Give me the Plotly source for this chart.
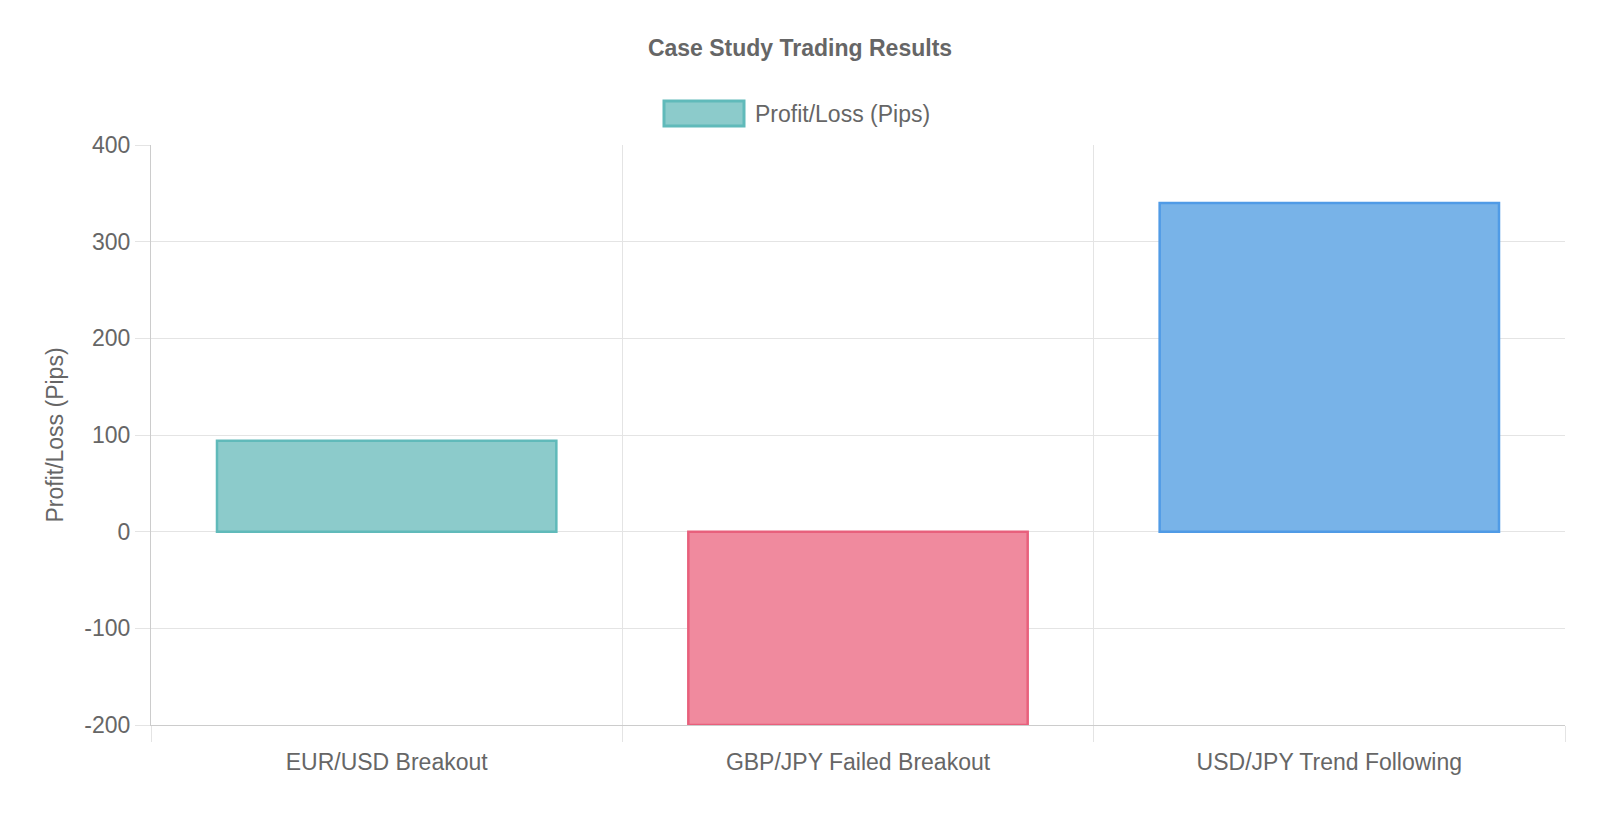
import plotly.graph_objects as go

# ── Data ───────────────────────────────────────────────────────────────────────
categories = ["EUR/USD Breakout", "GBP/JPY Failed Breakout", "USD/JPY Trend Following"]
pips = [94, -200, 340]
fill_colors = ["#8ccbcb", "#f08a9e", "#78b3e8"]
line_colors = ["#60baba", "#e8607c", "#509be6"]
series_name = "Profit/Loss (Pips)"
y_ticks = [-200, -100, 0, 100, 200, 300, 400]
y_tick_text = [str(v) for v in y_ticks]

FONT = "Liberation Sans, Helvetica Neue, Arial, sans-serif"
GRID = "#e4e4e4"
AXIS = "#cccccc"
TEXT = "#666666"

# plot area in page pixels (used to place the hand-drawn legend)
L, R, T, B = 151, 1565, 145, 725
W, H = R - L, B - T

fig = go.Figure(go.Bar(
    x=categories, y=pips,
    name=series_name,
    marker=dict(color=fill_colors, line=dict(color=line_colors, width=2.5)),
    showlegend=False,
))

fig.update_layout(
    width=1600, height=817,
    margin=dict(l=L, r=1600 - R, t=T, b=817 - B),
    paper_bgcolor="white", plot_bgcolor="white",
    bargap=0.28,
    font=dict(family=FONT, color=TEXT, size=23),
    title=dict(text="<b>Case Study Trading Results</b>", x=0.5, xanchor="center",
               y=1 - 48 / 817, yanchor="middle", font=dict(size=23, color=TEXT)),
)

fig.update_xaxes(
    range=[-0.5, 2.5],
    tickson="boundaries", ticks="outside", ticklen=16, tickcolor=GRID,
    showgrid=True, gridcolor=GRID, gridwidth=1,
    showline=True, linecolor=AXIS, linewidth=1,
    ticklabelstandoff=16,
    tickfont=dict(size=23, color=TEXT),
)
fig.update_yaxes(
    range=[-200, 400], tickvals=y_ticks, ticktext=y_tick_text,
    ticks="outside", ticklen=15, tickcolor=GRID,
    showgrid=True, gridcolor=GRID, gridwidth=1, zeroline=False,
    showline=True, linecolor=AXIS, linewidth=1,
    ticklabelstandoff=0,
    tickfont=dict(size=23, color=TEXT),
    title=dict(text=series_name, font=dict(size=23, color=TEXT), standoff=14),
)

# Chart.js-style legend: wide colour box + label
fig.add_shape(type="rect", xref="paper", yref="paper",
              x0=(664 - L) / W, x1=(744 - L) / W,
              y0=(B - 126) / H, y1=(B - 101) / H,
              fillcolor=fill_colors[0], line=dict(color=line_colors[0], width=3))
fig.add_annotation(text=series_name, xref="paper", yref="paper",
                   x=(753 - L) / W, y=(B - 114) / H,
                   xanchor="left", yanchor="middle", showarrow=False,
                   font=dict(size=23, color=TEXT))

fig.write_html("out.html", config={"displayModeBar": False},
               post_script="document.body.style.margin='0';"
                           "document.body.style.overflow='hidden';")
